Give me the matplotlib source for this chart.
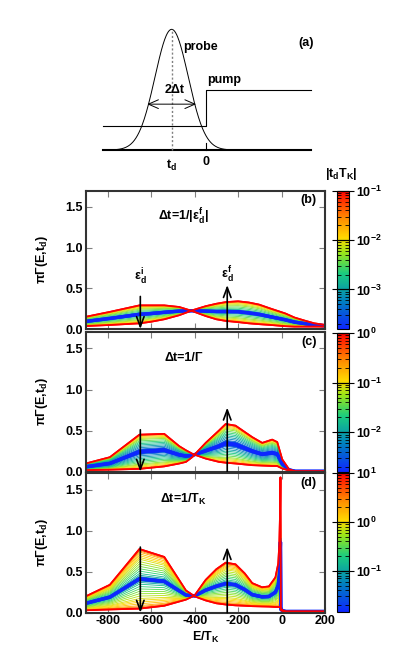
import numpy as np
import matplotlib
matplotlib.use('Agg')
import matplotlib.pyplot as plt
from matplotlib.colors import LinearSegmentedColormap, LogNorm
from matplotlib.cm import ScalarMappable

plt.rcParams['font.family'] = ['Liberation Sans', 'DejaVu Sans']
plt.rcParams['font.weight'] = 'bold'
plt.rcParams['axes.labelweight'] = 'bold'
plt.rcParams['font.size'] = 9
plt.rcParams['axes.unicode_minus'] = False
plt.rcParams['mathtext.fontset'] = 'custom'
plt.rcParams['mathtext.rm'] = 'Liberation Sans'
plt.rcParams['mathtext.bf'] = 'Liberation Sans:bold'
plt.rcParams['mathtext.it'] = 'Liberation Sans:italic'
plt.rcParams['mathtext.default'] = 'bf'

# ---- spectra: initial (t_d -> -inf) and final (t_d -> +inf)
E_b = [-900, -790, -654, -600, -540, -471, -410, -349, -300, -257, -200, -150, -104, -50, 18, 60, 110, 150, 200]
init_b = [0.15, 0.21, 0.29, 0.29, 0.29, 0.27, 0.22, 0.16, 0.12, 0.10, 0.085, 0.07, 0.06, 0.05, 0.035, 0.03, 0.03, 0.03, 0.03]
final_b = [0.037, 0.05, 0.07, 0.09, 0.12, 0.17, 0.23, 0.28, 0.31, 0.33, 0.34, 0.325, 0.30, 0.25, 0.19, 0.14, 0.10, 0.07, 0.05]

E_c = [-900, -790, -654, -540, -471, -440, -410, -349, -288, -257, -212, -135, -89, -43, -20, 3, 34, 64, 200]
init_c = [0.10, 0.176, 0.45, 0.46, 0.31, 0.26, 0.217, 0.16, 0.12, 0.11, 0.10, 0.08, 0.075, 0.07, 0.07, 0.04, 0.015, 0.005, 0.005]
final_c = [0.02, 0.025, 0.035, 0.065, 0.10, 0.12, 0.18, 0.35, 0.50, 0.58, 0.56, 0.42, 0.35, 0.39, 0.36, 0.15, 0.03, 0.005, 0.005]

E_d = [-900, -790, -654, -540, -440, -400, -349, -300, -257, -212, -170, -135, -90, -58, -28, -15, -10, -7, -5, -3, 5, 20, 200]
init_d = [0.20, 0.34, 0.776, 0.68, 0.27, 0.20, 0.15, 0.115, 0.10, 0.09, 0.085, 0.08, 0.077, 0.075, 0.07, 0.07, 0.07, 0.07, 0.07, 0.03, 0.02, 0.015, 0.015]
final_d = [0.03, 0.04, 0.05, 0.085, 0.16, 0.21, 0.40, 0.53, 0.61, 0.59, 0.48, 0.36, 0.31, 0.32, 0.43, 0.60, 0.85, 1.2, 1.65, 0.05, 0.03, 0.015, 0.015]

# |t_d T_K| of each drawn curve and the weight of the final spectrum it carries
td_b = [1e-1, 3e-2, 1.5e-2, 1e-2, 7e-3, 5e-3, 3.5e-3, 2.5e-3, 1.5e-3, 8e-4, 3e-4, 1.6e-4]
w_b = [0.0, 0.03, 0.07, 0.11, 0.16, 0.21, 0.27, 0.33, 0.39, 0.45, 0.49, 0.5]
td_c = [1.0, 0.3, 0.15, 0.1, 0.07, 0.05, 0.035, 0.025, 0.018, 0.013, 0.009, 0.006, 0.004, 0.003, 0.002, 0.0016]
w_c = [0.0, 0.02, 0.05, 0.08, 0.11, 0.14, 0.18, 0.22, 0.26, 0.30, 0.34, 0.38, 0.42, 0.45, 0.48, 0.5]
td_d = [10, 5, 3, 2, 1.5, 1.2, 1.0, 0.8, 0.65, 0.5, 0.4, 0.3, 0.22, 0.15, 0.1, 0.06, 0.03, 0.015]
w_d = [0.0, 0.01, 0.03, 0.05, 0.08, 0.11, 0.14, 0.17, 0.21, 0.25, 0.29, 0.33, 0.37, 0.41, 0.44, 0.47, 0.49, 0.5]

cbar_range = [(10**-3.8, 1e-1), (10**-2.8, 1e0), (10**-1.84, 1e1)]
cbar_ticks = [[1e-3, 1e-2, 1e-1], [1e-2, 1e-1, 1e0], [1e-1, 1e0, 1e1]]
cbar_labels = [['10$^{-3}$', '10$^{-2}$', '10$^{-1}$'],
               ['10$^{-2}$', '10$^{-1}$', '10$^{0}$'],
               ['10$^{-1}$', '10$^{0}$', '10$^{1}$']]

x_ticks = [-800, -600, -400, -200, 0, 200]
y_ticks = [0.0, 0.5, 1.0, 1.5]

titles = ['Δt=1/|ε$^{f}_{d}$|', 'Δt=1/Γ', 'Δt=1/T$_{K}$']
tags = ['(b)', '(c)', '(d)']
arrow_top = [(0.40, 0.54), (0.51, 0.78), (0.80, 0.80)]

cmap = LinearSegmentedColormap.from_list('gp', [
    (0.0, (0.05, 0.15, 1.00)), (0.2, (0.00, 0.50, 0.75)), (0.4, (0.10, 0.80, 0.50)),
    (0.55, (0.60, 0.90, 0.10)), (0.66, (1.00, 0.85, 0.00)), (0.8, (1.00, 0.55, 0.00)),
    (1.0, (1.00, 0.00, 0.00))])

fig = plt.figure(figsize=(4, 6.57), dpi=100)

# ---- panel (a): schematic of probe and pump
axa = fig.add_axes([95/400, 1-175/657, 225/400, 175/657])
axa.axis('off')
axa.set_xlim(-4.72, 4.85)
axa.set_ylim(-0.207, 1.243)
t_d, dt = -1.46, 1.0
t = np.linspace(-4.4, 4.46, 400)
axa.plot(t, np.exp(-(t - t_d)**2 / dt**2), color='black', lw=0.7)
axa.plot([-4.4, 4.46], [0, 0], color='black', lw=1.5)
axa.plot([-4.4, 0, 0, 4.46], [0.2, 0.2, 0.5, 0.5], color='black', lw=0.8)
axa.plot([0, 0], [0, 0.055], color='black', lw=0.8)
axa.plot([t_d, t_d], [0, 1], color='gray', lw=1, ls=(0, (1.5, 1.5)))
axa.annotate('', xy=(-2.5, 0.38), xytext=(-0.42, 0.38),
             arrowprops=dict(arrowstyle='<->, head_length=0.8, head_width=0.35', lw=0.7, color='black',
                             shrinkA=0, shrinkB=0))
axa.text(-0.98, 0.85, 'probe', va='center', ha='left')
axa.text(0.03, 0.58, 'pump', va='center', ha='left')
axa.text(-1.32, 0.50, '2Δt', va='center', ha='center')
axa.text(4.26, 0.89, '(a)', va='center', ha='center')
axa.text(t_d, -0.13, 't$_{d}$', va='center', ha='center')
axa.text(0, -0.10, '0', va='center', ha='center')

# ---- panels (b)-(d)
panels = [(E_b, init_b, final_b, td_b, w_b), (E_c, init_c, final_c, td_c, w_c), (E_d, init_d, final_d, td_d, w_d)]
ax_pos = [(1-329/657, 138.3/657), (1-471.7/657, 139.7/657), (1-612.7/657, 139.4/657)]
cb_pos = [(1-329/657, 138.3/657), (1-472/657, 139/657), (1-612/657, 139/657)]

for i, (E, a0, a1, tds, ws) in enumerate(panels):
    ax = fig.add_axes([86/400, ax_pos[i][0], 239/400, ax_pos[i][1]])
    norm = LogNorm(*cbar_range[i])
    a0 = np.array(a0)
    a1 = np.array(a1)
    n = len(tds)
    for k in range(n):
        lw = 1.3 if k == 0 else (2.4 if k == n-1 else (1.2 if k >= n-3 else 0.6))
        col = cmap(norm(tds[k]))
        w = ws[k]
        ax.plot(E, (1 - w) * a0 + w * a1, color=col, lw=lw)
        ax.plot(E, w * a0 + (1 - w) * a1, color=col, lw=lw)
    ax.plot(E, a0, color='red', lw=1.3)
    ax.plot(E, a1, color='red', lw=1.3)

    ax.annotate('', xy=(-650, 0), xytext=(-650, arrow_top[i][0]),
                arrowprops=dict(arrowstyle='->, head_length=0.8, head_width=0.3', lw=1.2, color='black',
                                shrinkA=0, shrinkB=0))
    ax.annotate('', xy=(-250, arrow_top[i][1]), xytext=(-250, 0),
                arrowprops=dict(arrowstyle='->, head_length=0.8, head_width=0.3', lw=1.2, color='black',
                                shrinkA=0, shrinkB=0))
    if i == 0:
        ax.text(-650, 0.64, 'ε$^{i}_{d}$', ha='center', va='center')
        ax.text(-250, 0.66, 'ε$^{f}_{d}$', ha='center', va='center')

    ax.text(-450, 1.38, titles[i], ha='center', va='center')
    ax.text(125, 1.58, tags[i], ha='center', va='center')

    ax.set_xlim(-900, 200)
    ax.set_ylim(0, 1.7)
    ax.set_xticks(x_ticks)
    ax.set_yticks(y_ticks)
    ax.set_yticklabels(['%.1f' % v for v in y_ticks])
    ax.tick_params(direction='in', top=True, right=True, length=4, width=0.8, color='gray', pad=2,
                   labelsize=9)
    for s in ax.spines.values():
        s.set_linewidth(1.5)
        s.set_color('#333333')
    ax.set_ylabel('πΓ(E,t$_{d}$)', labelpad=11)
    if i < 2:
        ax.set_xticklabels([])
    else:
        ax.set_xticklabels([str(v) for v in x_ticks])
        ax.set_xlabel('E/T$_{K}$', labelpad=2)

    cax = fig.add_axes([337.3/400, cb_pos[i][0], 12/400, cb_pos[i][1]])
    cb = fig.colorbar(ScalarMappable(norm=norm, cmap=cmap), cax=cax)
    cb.outline.set_linewidth(0.8)
    cb.set_ticks(cbar_ticks[i])
    cb.set_ticklabels(cbar_labels[i])
    cax.tick_params(which='both', direction='in', left=True, right=True, color='black', labelsize=9)
    cax.tick_params(which='major', length=12, width=0.8, pad=5)
    cax.tick_params(which='minor', length=3, width=0.6)

fig.text(341/400, 1-174/657, '|t$_{d}$T$_{K}$|', ha='center', va='center')

fig.savefig('out.png', dpi=100)
